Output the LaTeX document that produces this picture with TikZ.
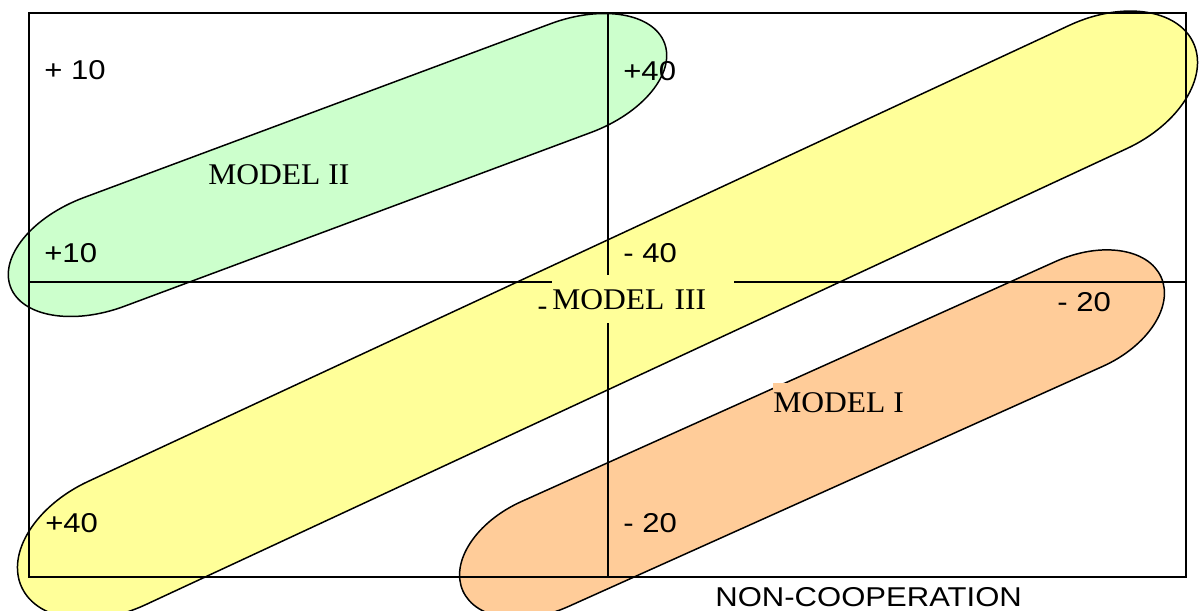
\documentclass[tikz,border=0pt]{standalone}
\usepackage{fontspec}
\setmainfont{Liberation Serif}
\newfontfamily\lblfont[FakeStretch=1.14]{Liberation Sans}
\newfontfamily\modfont[FakeStretch=1.05]{Liberation Serif}
\usepackage{xcolor}
\usepackage{tikz}
\definecolor{mdlGreen}{RGB}{204,255,204}
\definecolor{mdlYellow}{RGB}{255,255,153}
\definecolor{mdlOrange}{RGB}{255,204,153}
% band: centre, angle, half length, cap radius, half width, fill
\newcommand{\modelband}[6]{%
\begin{scope}[shift={#1}, rotate=#2]
\draw[band, fill=#6] (-#3,#5) -- (#3,#5) arc[start angle=90, end angle=-90, x radius=#4, y radius=#5] -- (-#3,-#5) arc[start angle=270, end angle=90, x radius=#4, y radius=#5] -- cycle;
\end{scope}}

\begin{document}
\begin{tikzpicture}[font=\lblfont\fontsize{15.5}{18}\selectfont]
\tikzstyle{band}=[draw=black, line width=0.85pt]
\tikzstyle{frm}=[draw=black, line width=1.1pt]
\tikzstyle{val}=[anchor=west, inner sep=0pt]
\tikzstyle{mdl}=[font=\modfont\fontsize{17.1}{20}\selectfont, inner sep=0pt]
\useasboundingbox (0,0) rectangle (24.06,12.2);
\clip (0,0) rectangle (24.06,12.2);
\modelband{(6.75,8.90)}{20.43}{4.98}{2.0}{1.16}{mdlGreen}
\modelband{(12.15,5.90)}{24.93}{10.82}{2.1}{1.36}{mdlYellow}
\modelband{(16.24,3.52)}{24.2}{5.855}{1.8}{1.15}{mdlOrange}
\draw[frm] (0.58,0.66) rectangle (23.72,11.94);
\draw[frm] (12.16,0.66) -- (12.16,11.94);
\draw[frm] (0.58,6.56) -- (23.72,6.56);
\node[val] (tl) at (0.88,10.80) {+ 10};
\node[val] (tr) at (12.46,10.78) {+40};
\node[val] (ml) at (0.88,7.14) {+10};
\node[val] (mr) at (12.46,7.14) {- 40};
\node[val] (rr) at (21.14,6.16) {- 20};
\node[val] (br) at (12.46,1.74) {- 20};
\node[val] (bl) at (0.90,1.74) {+40};
\node[val] (noncoop) at (14.30,0.26) {NON-COOPERATION};
\node[inner sep=0pt, anchor=base west] (dash) at (10.74,5.90) {-};
\node[mdl, anchor=west] (m2) at (4.16,8.70) {MODEL II};
\node[mdl, anchor=north west, fill=mdlYellow, text width=3.64cm, align=left, minimum height=0.96cm] (m3) at (11.04,6.70) {MODEL III};
\node[mdl, anchor=north west, fill=mdlOrange, inner ysep=0.18cm] (m1) at (15.46,4.54) {MODEL I};
\end{tikzpicture}
\end{document}
